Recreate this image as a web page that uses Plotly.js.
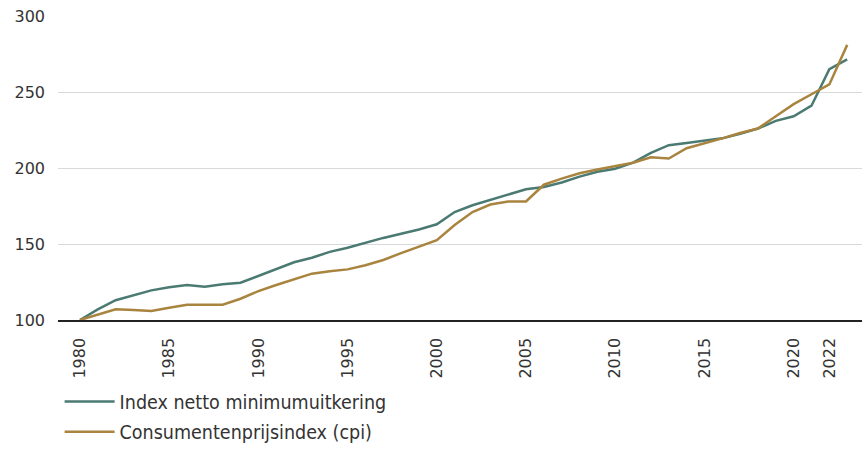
<!DOCTYPE html>
<html>
<head>
<meta charset="utf-8">
<script src="https://cdn.plot.ly/plotly-3.0.1.min.js"></script>
<style>
html,body{margin:0;padding:0;background:#fff;}
#chart{width:865px;height:453px;}
</style>
</head>
<body>
<div id="chart"></div>
<script>
const years = [1980,1981,1982,1983,1984,1985,1986,1987,1988,1989,
               1990,1991,1992,1993,1994,1995,1996,1997,1998,1999,
               2000,2001,2002,2003,2004,2005,2006,2007,2008,2009,
               2010,2011,2012,2013,2014,2015,2016,2017,2018,2019,
               2020,2021,2022,2023];

const minimumuitkering = [100,107,113,116.5,119.5,121.5,123,121.8,123.5,124.5,
                          129,133,138,141,144.8,147.5,151,154,156.8,159.5,
                          163,171,175.5,179,183,186,187.5,190.5,194.3,197.5,
                          199.5,203.5,210,215,216.5,218,219.5,222.5,226,231,
                          234,241,265,271.5];

const cpi = [100,103.5,107,106.5,106,108,110,110,110,114,
             119,123,127,130.5,132,133.3,136,139.5,144,148.5,
             152.5,162.5,171,176,178,178,189,193,196.5,199,
             201,203.5,207,206.2,213,216,219.5,223,226,234,
             242,248.5,255,281];

const xTickVals = [1980,1985,1990,1995,2000,2005,2010,2015,2020,2022];
const xTickText = ['1980','1985','1990','1995','2000','2005','2010','2015','2020','2022'];
const yTickVals = [100,150,200,250,300];

const seriesNames = ['Index netto minimumuitkering','Consumentenprijsindex (cpi)'];
const colors = ['#4b7a73','#a9843f'];

const traces = [
  {x: years, y: minimumuitkering, name: seriesNames[0], type: 'scatter', mode: 'lines',
   legendgroup: 'a', line: {color: colors[0], width: 2.5}},
  {x: years, y: cpi, name: seriesNames[1], type: 'scatter', mode: 'lines',
   legendgroup: 'b', line: {color: colors[1], width: 2.5}}
];

const layout = {
  width: 865, height: 453,
  margin: {l: 58, r: 3, t: 16, b: 132},
  paper_bgcolor: '#fff', plot_bgcolor: '#fff',
  font: {family: 'DejaVu Sans, sans-serif', size: 16, color: '#333'},
  xaxis: {
    range: [1978.77, 2023.83],
    tickvals: xTickVals, ticktext: xTickText,
    tickangle: -90,
    automargin: false,
    showgrid: false, zeroline: false,
    showline: true, linecolor: '#222', linewidth: 1.5,
    ticks: '', ticklabelstandoff: 10,
    tickfont: {family: 'DejaVu Sans, sans-serif', size: 16, color: '#333'}
  },
  yaxis: {
    range: [100, 300],
    tickvals: yTickVals,
    automargin: false,
    showgrid: true, gridcolor: '#d9d9d9', gridwidth: 1,
    zeroline: false, showline: false,
    ticks: '', ticklabelstandoff: 12,
    tickfont: {family: 'DejaVu Sans, sans-serif', size: 16, color: '#333'}
  },
  showlegend: true,
  legend: {
    x: 0.002, xanchor: 'left', y: -0.427, yanchor: 'bottom',
    orientation: 'v',
    tracegroupgap: 2,
    font: {family: 'Liberation Sans Narrow, DejaVu Sans Condensed, sans-serif', size: 19.5, color: '#333'},
    itemwidth: 50,
    bgcolor: 'rgba(0,0,0,0)'
  }
};

Plotly.newPlot('chart', traces, layout, {displayModeBar: false, staticPlot: true});
</script>
</body>
</html>
